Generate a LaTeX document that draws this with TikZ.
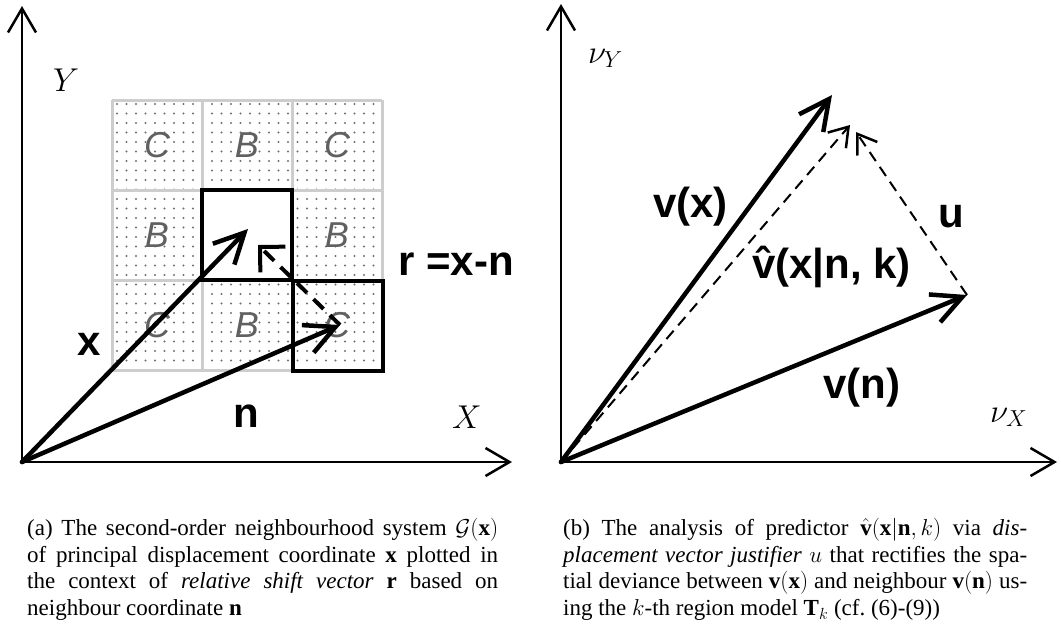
\RequirePackage{fix-cm}
\documentclass[tikz,border=0pt]{standalone}
\usepackage{fontspec}
\setmainfont{Liberation Serif}
\newfontfamily\labfont{Liberation Sans}
\usetikzlibrary{arrows.meta}
\definecolor{gridc}{HTML}{CDCDCD}
\definecolor{dotc}{HTML}{707070}
\definecolor{letc}{HTML}{606060}
\tikzset{
  vecarrow/.style={line width=4.5pt, line cap=round, -{Straight Barb[length=30pt,width=30pt]}},
  axisarrow/.style={line width=2.5pt, -{Straight Barb[length=24pt,width=28pt]}},
  dasharrow/.style={line width=2pt, dash pattern=on 11pt off 7pt, -{Straight Barb[length=18pt,width=24pt,line width=2.5pt]}},
  blab/.style={font=\labfont\bfseries\fontsize{42}{42}\selectfont, inner sep=0pt, anchor=base west},
  mlab/.style={font=\fontsize{33}{33}\selectfont, inner sep=0pt, anchor=base west},
  celllab/.style={font=\labfont\itshape\fontsize{36}{36}\selectfont, text=letc, inner sep=0pt, anchor=center},
  gridline/.style={draw=gridc, line width=3pt},
  capt/.style={font=\fontsize{23}{26.7}\selectfont, inner sep=0pt, anchor=north west, align=justify}
}
\begin{document}
\begin{tikzpicture}[x=1pt,y=-1pt]
\useasboundingbox (0,0) rectangle (1061,633);
% ---------- left panel ----------
\coordinate (O) at (22,462);
\coordinate (Ytip) at (22,6);
\coordinate (Xtip) at (512,462);
\coordinate (xtip) at (248,229);
\coordinate (ntip) at (340,325);
\coordinate (rtip) at (258,245);
% dots
\foreach \i in {0,...,27} {
  \foreach \j in {0,...,27} {
    \fill[dotc] ({117+9.5*\i},{104+9.5*\j}) circle[radius=1.1pt];
  }
}
% grid
\foreach \k in {0,1,2,3} {
  \draw[gridline] ({112+90*\k},100) -- ({112+90*\k},370);
  \draw[gridline] (112,{100+90*\k}) -- (382,{100+90*\k});
}
\filldraw[fill=white, draw=black, line width=3.5pt] (202,190) rectangle (292,280);
\draw[line width=4.5pt] (293,281) rectangle (383,371);
% cell letters
\node[celllab] (c11) at (157,145) {C};
\node[celllab] (c12) at (247,145) {B};
\node[celllab] (c13) at (337,145) {C};
\node[celllab] (c21) at (157,235) {B};
\node[celllab] (c23) at (337,235) {B};
\node[celllab] (c31) at (157,325) {C};
\node[celllab] (c32) at (247,325) {B};
\node[celllab] (c33) at (337,325) {C};
% axes
\draw[axisarrow] (O) -- (Ytip);
\draw[axisarrow] (O) -- (Xtip);
% vectors
\draw[vecarrow] (O) -- (xtip);
\draw[vecarrow] (O) -- (ntip);
\draw[line width=4pt, dash pattern=on 14pt off 9pt, -{Straight Barb[length=18pt,width=36pt]}] (ntip) -- (rtip);
% labels
\node[mlab] (Ylab) at (53,91) {$Y$};
\node[mlab] (Xlab) at (452,428) {$X$};
\node[blab] (xlab) at (77,355) {x};
\node[blab] (nlab) at (233,427) {n};
\node[blab] (rlab) at (398,275) {r =x-n};
% ---------- right panel ----------
\coordinate (P) at (561,462);
\coordinate (VYtip) at (561,4);
\coordinate (VXtip) at (1057,462);
\coordinate (vxtip) at (832,95);
\coordinate (vntip) at (967,295);
\coordinate (vhtip) at (850,125);
\coordinate (utip) at (856,132);
\draw[axisarrow] (P) -- (VYtip);
\draw[axisarrow] (P) -- (VXtip);
\draw[vecarrow] (P) -- (vxtip);
\draw[vecarrow] (P) -- (vntip);
\draw[dasharrow] (P) -- (vhtip);
\draw[dasharrow] (vntip) -- (utip);
\node[mlab] (vylab) at (588,63) {$\nu_Y$};
\node[mlab] (vxlab) at (990,422) {$\nu_X$};
\node[blab] (vxl) at (653,217) {v(x)};
\node[blab] (ul) at (938,227) {u};
\node[blab] (vhl) at (752,278) {\^{v}(x|n, k)};
\node[blab] (vnl) at (823,398) {v(n)};
% ---------- captions ----------
\node[capt, text width=471pt] (capa) at (27,518) {(a) The second-order neighbourhood system $\mathcal{G}(\mathbf{x})$\linebreak of principal displacement coordinate $\mathbf{x}$ plotted in\linebreak the context of \emph{relative shift vector} $\mathbf{r}$ based on\linebreak neighbour coordinate $\mathbf{n}$};
\node[capt, text width=464pt] (capb) at (563,518) {(b) The analysis of predictor $\hat{\mathbf{v}}(\mathbf{x}|\mathbf{n},k)$ via \emph{dis-\linebreak placement vector justifier} $u$ that rectifies the spa-\linebreak tial deviance between $\mathbf{v}(\mathbf{x})$ and neighbour $\mathbf{v}(\mathbf{n})$ us-\linebreak ing the $k$-th region model $\mathbf{T}_k$ (cf.~(6)-(9))};
\end{tikzpicture}
\end{document}
